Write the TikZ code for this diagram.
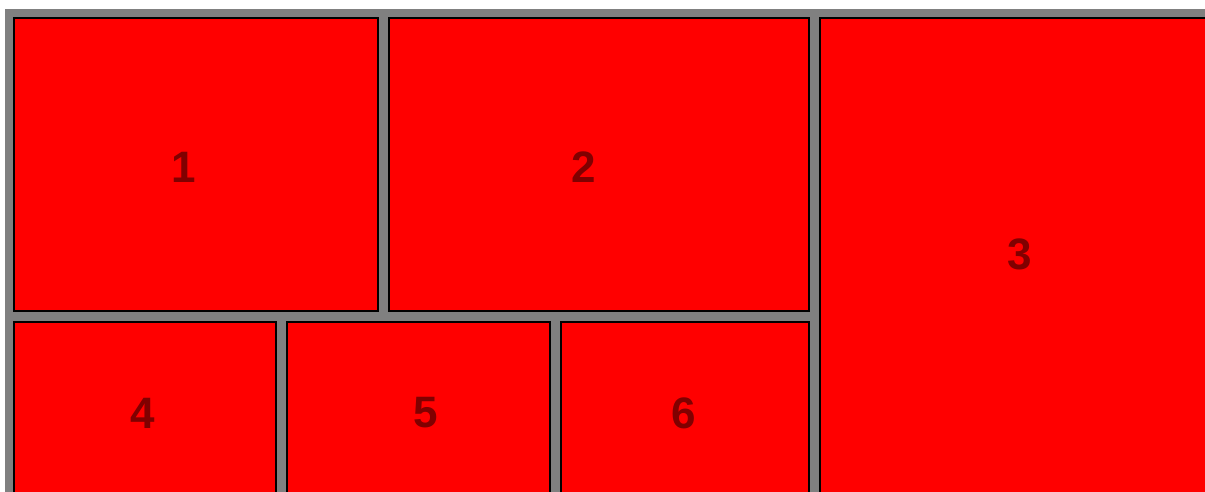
\documentclass[tikz,border=0pt]{standalone}
\usepackage{fontspec}
\setmainfont{Liberation Sans}
\definecolor{panelgrey}{RGB}{128,128,128}
\definecolor{labelred}{RGB}{128,0,0}
\begin{document}
\begin{tikzpicture}[x=1pt, y=-1pt,
  box/.style={fill=red, draw=black, line width=2pt},
  num/.style={text=labelred, font=\fontsize{44}{44}\selectfont\bfseries}]
\useasboundingbox (0,0) rectangle (1205,492);
\clip (0,0) rectangle (1205,492);
\fill[panelgrey] (5,9) rectangle (1210,500);
% top row
\draw[box] (14,18) rectangle (378,311);
\draw[box] (389,18) rectangle (809,311);
\draw[box] (820,18) rectangle (1215,505);
% bottom row
\draw[box] (14,322) rectangle (276,505);
\draw[box] (287,322) rectangle (550,505);
\draw[box] (561,322) rectangle (809,505);
\node[num] (n1) at (184,167) {1};
\node[num] (n2) at (584,167) {2};
\node[num] (n3) at (1020,254) {3};
\node[num] (n4) at (143,413) {4};
\node[num] (n5) at (426,413) {5};
\node[num] (n6) at (684,413) {6};
\end{tikzpicture}
\end{document}
